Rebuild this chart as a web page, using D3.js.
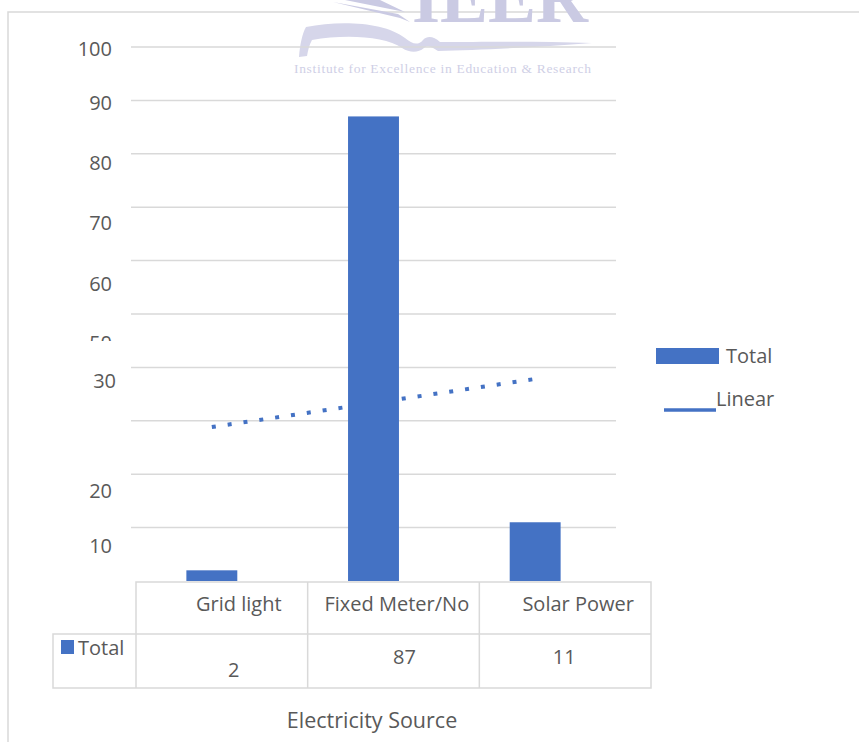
<!DOCTYPE html>
<head>
  <meta charset="utf-8">
  <title>Electricity Source</title>
  <script src="https://d3js.org/d3.v7.min.js"></script>
  <style>
    body { margin: 0; background: #fff; }
    text { font-family: "Open Sans", sans-serif; fill: #595959; }
  </style>
</head>
<body>
<div id="chart"></div>
<script>

// data
var categories = ["Grid light", "Fixed Meter/No", "Solar Power"];
var totals = [2, 87, 11];
var seriesName = "Total";
var trendName = "Linear";
var axisTitle = "Electricity Source";
var gridValues = [10, 20, 30, 40, 50, 60, 70, 80, 90, 100];
// the axis labels in the picture sit off their gridlines
var tickLabels = ["100", "90", "80", "70", "60", "50", "30", "20", "10"];
var tickAt = [99.7, 89.6, 78.2, 67.0, 55.6, 44.6, 37.5, 16.9, 6.6];

var W = 859, H = 742;
var blue = "#4472C4", grid = "#d9d9d9";
var fs = "20px";

var svg = d3.select("#chart").append("svg")
  .attr("width", W).attr("height", H);

// frame
svg.append("path")
  .attr("d", "M8," + H + "V12H" + W)
  .attr("fill", "none").attr("stroke", grid).attr("stroke-width", 1.5);

// watermark logo
svg.append("text")
  .attr("x", 412).attr("y", 22)
  .attr("textLength", 176)
  .style("font-family", "'Liberation Serif', serif")
  .style("font-weight", "bold").style("font-size", "72px")
  .style("fill", "#cacae3")
  .text("IEER");
svg.append("path")
  .attr("d", "M333,2 L400,18 L410,22 L398,14 Z M345,0 L405,12 L380,0 Z")
  .attr("fill", "#cacae3");
svg.append("path")
  .attr("d", "M299,57 C300,45 302,34 306,27 C340,20 385,22 405,38 C412,44 418,46 423,40 " +
             "C428,35 434,37 440,42 C480,42 540,41 592,43 C540,47 480,50 438,51 " +
             "C432,47 428,45 424,48 C418,53 410,53 402,48 C385,36 345,34 312,40 C309,45 308,51 307,56 Z")
  .attr("fill", "#d6d6ea");
svg.append("text")
  .attr("x", 294).attr("y", 73)
  .attr("textLength", 297)
  .style("font-family", "'Liberation Serif', serif")
  .style("font-size", "13.5px")
  .style("fill", "#cfcfe6")
  .text("Institute for Excellence in Education & Research");

// scales
var x = d3.scaleBand().domain(categories).range([131, 616]).paddingInner(0.685).paddingOuter(0.3425);
var y = d3.scaleLinear().domain([0, 100]).range([581, 47]);

// gridlines
svg.append("g").selectAll("line")
  .data(gridValues).enter().append("line")
    .attr("x1", 131).attr("x2", 616)
    .attr("y1", function (d) { return y(d); })
    .attr("y2", function (d) { return y(d); })
    .attr("stroke", grid).attr("stroke-width", 1.5);

// axis labels
svg.append("clipPath").attr("id", "cut")
  .append("rect").attr("x", 0).attr("y", 0).attr("width", 130).attr("height", 341);
svg.append("g").selectAll("text")
  .data(tickLabels).enter().append("text")
    .attr("x", function (d, i) { return i == 6 ? 116 : 112; })
    .attr("y", function (d, i) { return y(tickAt[i]); })
    .attr("dy", "0.35em")
    .attr("text-anchor", "end")
    .attr("clip-path", function (d) { return d == "50" ? "url(#cut)" : null; })
    .style("font-size", fs)
    .text(function (d) { return d; });

// linear trendline (least squares over category index)
var n = totals.length;
var xs = d3.range(1, n + 1);
var mx = d3.mean(xs), my = d3.mean(totals);
var slope = d3.sum(xs, function (v, i) { return (v - mx) * (totals[i] - my); }) /
            d3.sum(xs, function (v) { return (v - mx) * (v - mx); });
var icpt = my - slope * mx;
var cx = function (c) { return x(c) + x.bandwidth() / 2; };
svg.append("line")
  .attr("x1", cx(categories[0])).attr("y1", y(icpt + slope * 1))
  .attr("x2", cx(categories[n - 1])).attr("y2", y(icpt + slope * n))
  .attr("stroke", blue).attr("stroke-width", 4)
  .attr("stroke-dasharray", "4,12");

// bars
svg.append("g").selectAll("rect")
  .data(totals).enter().append("rect")
    .attr("x", function (d, i) { return x(categories[i]); })
    .attr("y", function (d) { return y(d); })
    .attr("width", x.bandwidth())
    .attr("height", function (d) { return y(0) - y(d); })
    .attr("fill", blue);

// legend
svg.append("rect").attr("x", 656).attr("y", 348).attr("width", 63).attr("height", 16).attr("fill", blue);
svg.append("text").attr("x", 726).attr("y", 356).attr("dy", "0.35em").style("font-size", fs).text(seriesName);
svg.append("line").attr("x1", 664).attr("x2", 716).attr("y1", 410).attr("y2", 410)
  .attr("stroke", blue).attr("stroke-width", 3.5);
svg.append("text").attr("x", 716).attr("y", 399).attr("dy", "0.35em").style("font-size", fs).text(trendName);

// data table
var tx = d3.scaleBand().domain(categories).range([136, 651]);
var t = svg.append("g").attr("fill", "none").attr("stroke", grid).attr("stroke-width", 1.5);
t.append("path").attr("d", "M136,688V582H651V688H53V634H651");
categories.slice(1).forEach(function (c) {
  t.append("line").attr("x1", tx(c)).attr("x2", tx(c)).attr("y1", 582).attr("y2", 688);
});

var headDx = [17, -69, 13];
var valDx = [12, 11, -1];
var valY = [670, 657, 657];
categories.forEach(function (c, i) {
  var id = "cell" + i;
  svg.append("clipPath").attr("id", id)
    .append("rect").attr("x", tx(c)).attr("y", 582).attr("width", tx.bandwidth() - 1).attr("height", 52);
  svg.append("text")
    .attr("x", tx(c) + tx.bandwidth() / 2 + headDx[i])
    .attr("y", 604).attr("dy", "0.35em")
    .attr("text-anchor", i == 1 ? "start" : "middle")
    .attr("clip-path", "url(#" + id + ")")
    .style("font-size", fs)
    .text(c);
  svg.append("text")
    .attr("x", tx(c) + tx.bandwidth() / 2 + valDx[i])
    .attr("y", valY[i]).attr("dy", "0.35em")
    .attr("text-anchor", "middle")
    .style("font-size", fs)
    .text(totals[i]);
});
svg.append("rect").attr("x", 61).attr("y", 640).attr("width", 13).attr("height", 14).attr("fill", blue);
svg.append("text").attr("x", 78).attr("y", 648).attr("dy", "0.35em").style("font-size", fs).text(seriesName);

// axis title
svg.append("text")
  .attr("x", 372).attr("y", 720).attr("dy", "0.35em")
  .attr("text-anchor", "middle")
  .style("font-size", "21.5px")
  .text(axisTitle);

</script>
</body>
